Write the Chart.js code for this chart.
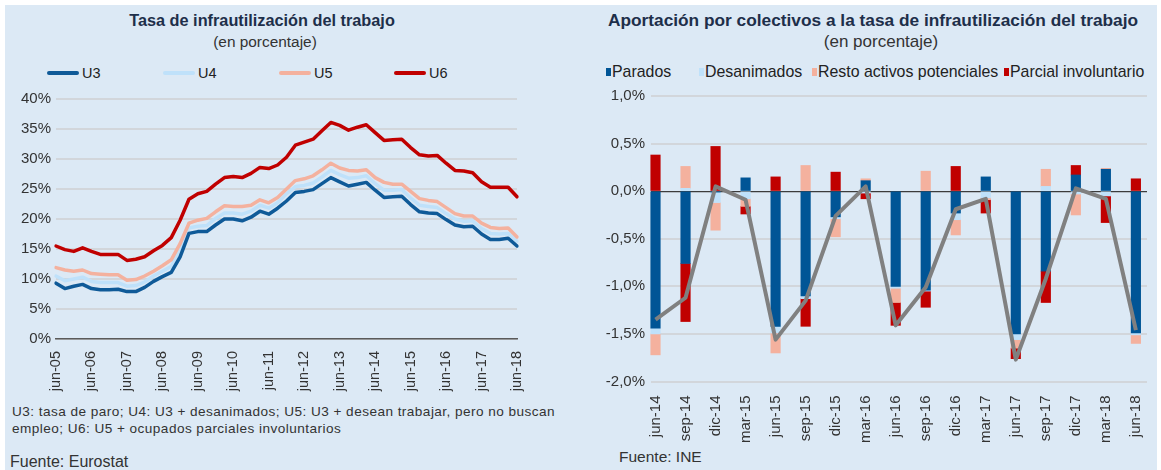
<!DOCTYPE html>
<html>
<head>
<meta charset="utf-8">
<script src="https://cdn.jsdelivr.net/npm/chart.js@4/dist/chart.umd.min.js"></script>
<style>
  html, body { margin: 0; padding: 0; background: #ffffff; }
  body { width: 1161px; height: 470px; position: relative; overflow: hidden; font-family: "Liberation Sans", Arial, sans-serif; color: #333; }
  #panel { position: absolute; left: 5px; top: 5px; width: 1152px; height: 465px; background: #dce9f5; }
  .abs { position: absolute; white-space: nowrap; }
  .title { font-weight: bold; color: #1e2f4a; text-align: center; line-height: 20px; }
  .sub { color: #333; text-align: center; line-height: 20px; }
  .leg { color: #222; line-height: 18px; }
  .lline { position: absolute; height: 4px; border-radius: 2px; }
  .sq { position: absolute; width: 5px; height: 8px; }
  .note { font-size: 13.6px; letter-spacing: 0.45px; color: #333; line-height: 17px; }
  .src { color: #333; line-height: 18px; }
  canvas { position: absolute; }
</style>
</head>
<body>
<div id="panel"></div>

<div class="abs title" style="left:0;width:524px;top:10px;font-size:16.3px;">Tasa de infrautilización del trabajo</div>
<div class="abs sub" style="left:0;width:530px;top:32px;font-size:15.4px;">(en porcentaje)</div>

<div class="lline" style="left:47px;top:71px;width:32px;background:#0f5a98;"></div>
<div class="abs leg" style="left:82px;top:64px;font-size:14.5px;">U3</div>
<div class="lline" style="left:163px;top:71px;width:32px;background:#bfe1fa;"></div>
<div class="abs leg" style="left:198px;top:64px;font-size:14.5px;">U4</div>
<div class="lline" style="left:279px;top:71px;width:32px;background:#f4b19e;"></div>
<div class="abs leg" style="left:314px;top:64px;font-size:14.5px;">U5</div>
<div class="lline" style="left:394px;top:71px;width:32px;background:#c00000;"></div>
<div class="abs leg" style="left:429px;top:64px;font-size:14.5px;">U6</div>

<div class="abs title" style="left:583px;width:580px;top:10px;font-size:17.3px;">Aportación por colectivos a la tasa de infrautilización del trabajo</div>
<div class="abs sub" style="left:591px;width:580px;top:32px;font-size:17px;">(en porcentaje)</div>

<div class="sq" style="left:606px;top:68px;background:#005596;"></div>
<div class="abs leg" style="left:612px;top:63px;font-size:15.9px;">Parados</div>
<div class="sq" style="left:699px;top:68px;background:#bfe1fa;"></div>
<div class="abs leg" style="left:705px;top:63px;font-size:15.9px;">Desanimados</div>
<div class="sq" style="left:812px;top:68px;background:#f4b19e;"></div>
<div class="abs leg" style="left:818px;top:63px;font-size:15.9px;">Resto activos potenciales</div>
<div class="sq" style="left:1004px;top:68px;background:#c00000;"></div>
<div class="abs leg" style="left:1010px;top:63px;font-size:15.9px;">Parcial involuntario</div>

<div class="abs note" style="left:12px;top:403px;">U3: tasa de paro; U4: U3 + desanimados; U5: U3 + desean trabajar, pero no buscan<br>empleo; U6: U5 + ocupados parciales involuntarios</div>
<div class="abs src" style="left:10px;top:453px;font-size:16px;">Fuente: Eurostat</div>
<div class="abs src" style="left:619px;top:448px;font-size:15.5px;">Fuente: INE</div>

<canvas id="c1" width="560" height="320" style="left:0;top:85px;"></canvas>
<canvas id="c2" width="581" height="370" style="left:580px;top:80px;"></canvas>

<script>
// ---------- Left chart data ----------
const quarters = [
  "jun-05","sep-05","dic-05","mar-06","jun-06","sep-06","dic-06","mar-07",
  "jun-07","sep-07","dic-07","mar-08","jun-08","sep-08","dic-08","mar-09",
  "jun-09","sep-09","dic-09","mar-10","jun-10","sep-10","dic-10","mar-11",
  "jun-11","sep-11","dic-11","mar-12","jun-12","sep-12","dic-12","mar-13",
  "jun-13","sep-13","dic-13","mar-14","jun-14","sep-14","dic-14","mar-15",
  "jun-15","sep-15","dic-15","mar-16","jun-16","sep-16","dic-16","mar-17",
  "jun-17","sep-17","dic-17","mar-18","jun-18"
];
const u3 = [9.3,8.4,8.8,9.1,8.4,8.2,8.2,8.3,7.9,7.9,8.6,9.6,10.4,11.1,13.7,17.6,17.9,17.9,19.0,20.0,20.0,19.7,20.3,21.3,20.8,21.8,23.0,24.4,24.6,24.9,25.9,26.9,26.2,25.5,25.8,26.1,24.8,23.6,23.7,23.8,22.4,21.2,21.0,20.9,19.9,19.0,18.7,18.8,17.5,16.6,16.6,16.8,15.5];
const u4 = [10.5,9.7,10.0,10.3,9.6,9.4,9.4,9.4,8.8,8.9,9.5,10.5,11.3,12.1,14.8,18.5,18.8,18.9,20.1,21.0,21.0,20.8,21.3,22.3,21.8,22.7,24.2,25.4,25.6,26.0,27.0,28.1,27.4,26.8,26.9,27.2,25.9,24.8,24.8,24.9,23.5,22.3,22.1,21.9,20.9,20.0,19.6,19.7,18.4,17.6,17.5,17.6,16.3];
const u5 = [11.9,11.5,11.3,11.5,10.9,10.8,10.7,10.7,9.8,9.9,10.5,11.3,12.2,13.2,15.9,19.3,19.8,20.1,21.2,22.2,22.1,22.1,22.3,23.2,22.7,23.6,25.0,26.4,26.7,27.2,28.2,29.3,28.5,28.1,28.0,28.2,26.9,26.1,25.8,25.8,24.6,23.4,23.1,22.9,21.9,20.9,20.5,20.5,19.3,18.6,18.4,18.5,17.0];
const u6 = [15.5,14.9,14.6,15.2,14.6,14.1,14.1,14.1,13.1,13.3,13.7,14.7,15.6,16.9,19.8,23.3,24.2,24.6,25.8,26.9,27.1,26.9,27.6,28.6,28.4,29.0,30.3,32.3,32.8,33.3,34.7,36.1,35.6,34.8,35.3,35.7,34.4,33.1,33.2,33.3,31.9,30.7,30.5,30.6,29.3,28.1,28.0,27.7,26.2,25.3,25.3,25.3,23.7];
const leftYTicks = [0,5,10,15,20,25,30,35,40];

// ---------- Right chart data ----------
const periods = ["jun-14","sep-14","dic-14","mar-15","jun-15","sep-15","dic-15","mar-16","jun-16","sep-16","dic-16","mar-17","jun-17","sep-17","dic-17","mar-18","jun-18"];
const parados     = [-1.44,-0.76,-0.01, 0.14,-1.42,-1.10,-0.27, 0.11,-1.00,-1.04,-0.23, 0.15,-1.50,-0.84, 0.17, 0.23,-1.49];
const desanimados = [-0.06, 0.03,-0.11,-0.08,-0.07,-0.03,-0.02,-0.02,-0.02,-0.01,-0.07,-0.07,-0.06, 0.05,-0.03,-0.05,-0.02];
const resto       = [-0.22, 0.23,-0.29,-0.08,-0.21, 0.27,-0.19, 0.02,-0.15, 0.21,-0.16,-0.02,-0.09, 0.18,-0.22, 0.01,-0.09];
const parcial     = [ 0.38,-0.61, 0.47,-0.08, 0.15,-0.29, 0.20,-0.06,-0.24,-0.17, 0.26,-0.14,-0.11,-0.33, 0.10,-0.28, 0.13];
const total       = [-1.35,-1.12, 0.05,-0.09,-1.56,-1.15,-0.26, 0.05,-1.41,-1.01,-0.19,-0.08,-1.77,-0.92, 0.03,-0.08,-1.46];

const FONT = "'Liberation Sans', Arial, sans-serif";
const GRID = '#d2d6db';
const TXT = '#333333';

// ---------- Left chart ----------
function lineDs(label, data, color, order) {
  return { type: 'line', label, data, borderColor: color, backgroundColor: color,
    borderWidth: 3.5, pointRadius: 0, tension: 0, fill: false, order,
    borderJoinStyle: 'round', borderCapStyle: 'round' };
}
new Chart(document.getElementById('c1'), {
  type: 'line',
  data: {
    labels: quarters,
    datasets: [
      lineDs('U3', u3, '#0f5a98', 1),
      lineDs('U4', u4, '#bfe1fa', 3),
      lineDs('U5', u5, '#f4b19e', 2),
      lineDs('U6', u6, '#c00000', 0)
    ]
  },
  options: {
    responsive: false, animation: false,
    layout: { padding: { top: 13, right: 43, bottom: 0, left: 0 } },
    plugins: { legend: { display: false }, tooltip: { enabled: false } },
    scales: {
      x: {
        type: 'category', offset: false,
        grid: { display: false },
        border: { display: true, color: '#5a5a5a', width: 1.5 },
        ticks: {
          autoSkip: false, minRotation: 90, maxRotation: 90, padding: 4,
          color: TXT, font: { family: FONT, size: 14.5 },
          callback: function(v, i) { const l = quarters[i]; return l.startsWith('jun') ? l : ''; }
        },
        afterFit: s => { s.height = 66; }
      },
      y: {
        min: 0, max: 40,
        afterBuildTicks: s => { s.ticks = leftYTicks.map(v => ({ value: v })); },
        grid: { color: GRID, lineWidth: 2, drawTicks: false },
        border: { display: false },
        ticks: { padding: 5, color: TXT, font: { family: FONT, size: 15 }, callback: v => v + '%' },
        afterFit: s => { s.width = 56; }
      }
    }
  }
});

// ---------- Right chart ----------
function barDs(label, vals, color) {
  return { type: 'bar', label, data: vals.map((v, i) => ({ x: i, y: v })),
    backgroundColor: color, borderWidth: 0, barThickness: 9.5, stack: 'comp', order: 1, clip: false };
}
const rightYTicks = [-2.0,-1.5,-1.0,-0.5,0.0,0.5,1.0];
new Chart(document.getElementById('c2'), {
  type: 'bar',
  data: {
    datasets: [
      barDs('Parados', parados, '#005596'),
      barDs('Desanimados', desanimados, '#bfe1fa'),
      barDs('Resto activos potenciales', resto, '#f4b19e'),
      barDs('Parcial involuntario', parcial, '#c00000'),
      { type: 'line', label: 'Total', data: total.map((v, i) => ({ x: i, y: v })),
        borderColor: '#808080', borderWidth: 4, pointRadius: 0, tension: 0,
        fill: false, stack: 'total', order: 0, borderJoinStyle: 'round', clip: false }
    ]
  },
  options: {
    responsive: false, animation: false,
    layout: { padding: { top: 16, right: 14, bottom: 0, left: 0 } },
    plugins: { legend: { display: false }, tooltip: { enabled: false } },
    scales: {
      x: {
        type: 'linear', min: -0.15, max: 16.37, stacked: true, offset: false,
        afterBuildTicks: s => { s.ticks = periods.map((p, i) => ({ value: i })); },
        grid: { display: false },
        border: { display: false },
        ticks: {
          autoSkip: false, minRotation: 90, maxRotation: 90, padding: 6,
          color: TXT, font: { family: FONT, size: 15 },
          callback: v => periods[v] ?? ''
        },
        afterFit: s => { s.height = 68.5; }
      },
      y: {
        stacked: true, min: -2.0, max: 1.0,
        afterBuildTicks: s => { s.ticks = rightYTicks.map(v => ({ value: v })); },
        grid: {
          drawTicks: false,
          color: c => Math.abs(c.tick.value) < 1e-9 ? '#3c3c3c' : GRID,
          lineWidth: c => Math.abs(c.tick.value) < 1e-9 ? 1.3 : 2
        },
        border: { display: false },
        ticks: { padding: 6, color: TXT, font: { family: FONT, size: 15 },
          callback: v => v.toFixed(1).replace('.', ',') + '%' },
        afterFit: s => { s.width = 71; }
      }
    }
  }
});
</script>
</body>
</html>
